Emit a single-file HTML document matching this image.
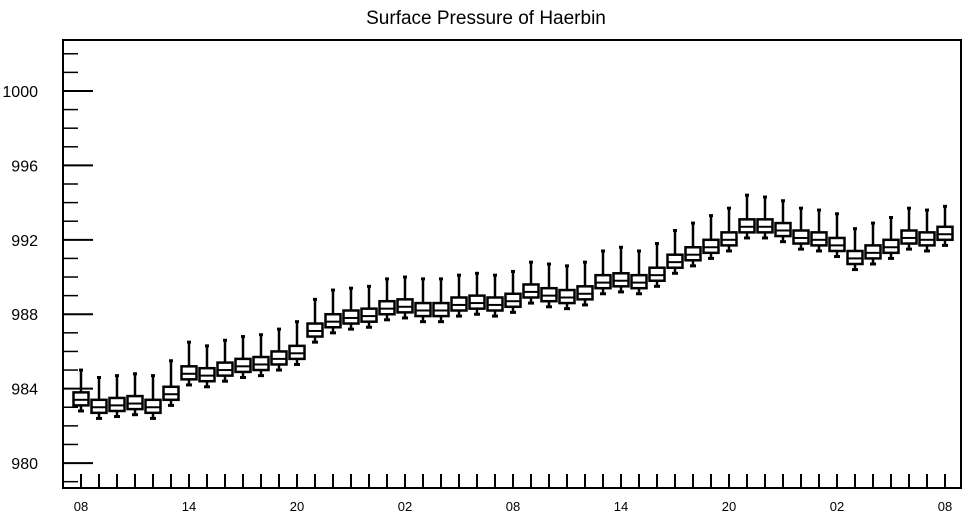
<!DOCTYPE html>
<html><head><meta charset="utf-8"><style>
body{margin:0;background:#fff;}
svg{display:block;font-family:"Liberation Sans",sans-serif;}
</style></head><body>
<svg id="chart" width="968" height="518" viewBox="0 0 968 518">
<text x="486" y="24" font-size="19" text-anchor="middle">Surface Pressure of Haerbin</text>
<g id="axes"></g><g id="boxes"></g>
<rect x="63" y="40" width="898" height="448" fill="none" stroke="#000" stroke-width="2"/>
</svg>
<script>
const xLabels=["08","14","20","02","08","14","20","02","08"];
const yTicks=[980,984,988,992,996,1000];
const medians=[983.4,983.0,983.1,983.2,983.0,983.7,984.8,984.7,985.0,985.2,985.3,985.6,985.9,987.1,987.6,987.8,987.9,988.3,988.4,988.2,988.2,988.5,988.6,988.5,988.7,989.2,989.0,988.9,989.1,989.7,989.8,989.7,990.1,990.8,991.2,991.6,992.0,992.7,992.7,992.5,992.1,992.0,991.7,991.0,991.3,991.6,992.1,992.0,992.3];
const whiskerHigh=[985.0,984.6,984.7,984.8,984.7,985.5,986.5,986.3,986.6,986.8,986.9,987.2,987.6,988.8,989.3,989.4,989.5,989.9,990.0,989.9,989.9,990.1,990.2,990.1,990.3,990.8,990.7,990.6,990.8,991.4,991.6,991.4,991.8,992.5,992.9,993.3,993.7,994.4,994.3,994.1,993.7,993.6,993.4,992.6,992.9,993.2,993.7,993.6,993.8];
const q3=medians.map(v=>v+0.4);
const q1=medians.map(v=>v-0.3);
const whiskerLow=medians.map(v=>v-0.6);
const NS="http://www.w3.org/2000/svg";
const yMin=978.66,yMax=1002.74,plotTop=40,plotBot=488;
const y=v=>plotBot-(v-yMin)/(yMax-yMin)*(plotBot-plotTop);
const x=i=>81+i*18;
function mk(tag,attrs,parent){const e=document.createElementNS(NS,tag);for(const k in attrs)e.setAttribute(k,attrs[k]);parent.appendChild(e);return e;}
const ax=document.getElementById('axes'),bx=document.getElementById('boxes');
for(let v=979;v<=1002;v++){const major=(v%4===0);
 const t=mk('line',{x1:63,x2:major?93:78,y1:y(v),y2:y(v),stroke:'#000','stroke-width':major?2:1.5},ax);
 
 }
yTicks.forEach(v=>{const t=mk('text',{x:38,y:y(v)+6,'font-size':16,'text-anchor':'end'},ax);t.textContent=v;
 
 });
for(let i=0;i<medians.length;i++){const t=mk('line',{x1:x(i),x2:x(i),y1:474,y2:488,stroke:'#000','stroke-width':2},ax);
 
 }
xLabels.forEach((l,k)=>{const t=mk('text',{x:x(k*6),y:511,'font-size':13,'text-anchor':'middle'},ax);t.textContent=l;
 
 });
for(let i=0;i<medians.length;i++){
 const g=mk('g',{stroke:'#000','stroke-width':2.5,fill:'#fff'},bx);
 
 
 const cx=x(i);
 mk('line',{x1:cx,x2:cx,y1:y(whiskerHigh[i]),y2:y(q3[i])},g);
 mk('line',{x1:cx-2,x2:cx+2,y1:y(whiskerHigh[i]),y2:y(whiskerHigh[i]),'stroke-width':3},g);
 mk('line',{x1:cx,x2:cx,y1:y(q1[i]),y2:y(whiskerLow[i])},g);
 mk('line',{x1:cx-3,x2:cx+3,y1:y(whiskerLow[i]),y2:y(whiskerLow[i]),'stroke-width':3},g);
 mk('rect',{x:cx-7.5,y:y(q3[i]),width:15,height:y(q1[i])-y(q3[i])},g);
 mk('line',{x1:cx-7.5,x2:cx+7.5,y1:y(medians[i]),y2:y(medians[i]),'stroke-width':2},g);
}
</script>
</body></html>
